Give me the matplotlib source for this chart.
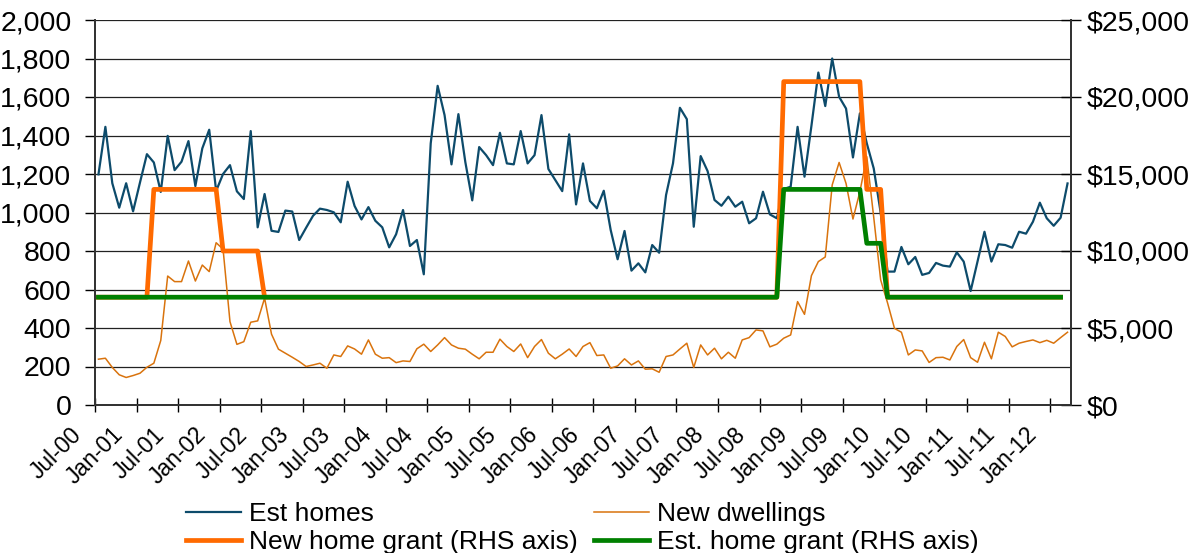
import numpy as np
import matplotlib
matplotlib.use("Agg")
import matplotlib.pyplot as plt
from matplotlib.ticker import FuncFormatter
from matplotlib.transforms import ScaledTranslation

plt.rcParams['font.family'] = ['Liberation Sans', 'DejaVu Sans']

# Monthly series, Jul-00 .. Mar-12
est_homes = [
    1198, 1445, 1152, 1025, 1152, 1006, 1156, 1303, 1260, 1107, 1398, 1220,
    1264, 1371, 1137, 1333, 1430, 1112, 1200, 1246, 1110, 1070, 1423, 923,
    1096, 905, 899, 1010, 1005, 857, 921, 983, 1020, 1013, 1001, 949,
    1160, 1034, 964, 1028, 957, 923, 819, 887, 1013, 826, 857, 679,
    1359, 1658, 1506, 1250, 1511, 1262, 1063, 1340, 1298, 1246, 1414, 1255,
    1250, 1423, 1255, 1298, 1506, 1226, 1169, 1111, 1406, 1042, 1255, 1060,
    1022, 1113, 909, 757, 904, 698, 736, 689, 831, 791, 1091, 1255,
    1544, 1485, 926, 1293, 1215, 1065, 1035, 1082, 1030, 1056, 944, 970,
    1108, 990, 970, 1122, 1134, 1445, 1186, 1450, 1727, 1553, 1800, 1601,
    1540, 1286, 1515, 1359, 1229, 1000, 693, 693, 821, 731, 769, 676,
    686, 738, 724, 719, 793, 745, 592, 745, 900, 745, 835, 831,
    817, 900, 890, 952, 1051, 970, 931, 973, 1151,
]
new_dwellings = [
    238, 243, 195, 157, 143, 153, 165, 196, 217, 335, 670, 641,
    641, 748, 644, 727, 693, 843, 810, 433, 315, 329, 430, 437,
    555, 368, 290, 269, 248, 226, 200, 208, 217, 191, 260, 252,
    307, 291, 264, 338, 264, 243, 246, 220, 229, 226, 292, 316,
    278, 312, 350, 312, 295, 290, 264, 240, 274, 274, 342, 304,
    278, 317, 246, 304, 340, 269, 240, 264, 291, 252, 304, 324,
    257, 260, 191, 203, 240, 208, 229, 186, 188, 170, 252, 260,
    291, 321, 195, 312, 260, 295, 240, 274, 243, 338, 350, 390,
    385, 302, 316, 347, 364, 537, 471, 672, 745, 769, 1143, 1260,
    1151, 966, 1108, 1290, 975, 650, 530, 398, 378, 260, 286, 281,
    221, 246, 248, 234, 304, 340, 246, 222, 326, 240, 378, 356,
    302, 321, 330, 338, 324, 336, 321, 350, 378,
]

# Grant schedules as (amount, number of months), Jul-00 .. Feb-12
new_grant_steps = [(7000, 8), (14000, 10), (10000, 6), (7000, 75),
                   (21000, 12), (14000, 3), (7000, 26)]
est_grant_steps = [(7000, 99), (14000, 12), (10500, 3), (7000, 26)]

tick_labels = ['Jul-00', 'Jan-01', 'Jul-01', 'Jan-02', 'Jul-02', 'Jan-03',
               'Jul-03', 'Jan-04', 'Jul-04', 'Jan-05', 'Jul-05', 'Jan-06',
               'Jul-06', 'Jan-07', 'Jul-07', 'Jan-08', 'Jul-08', 'Jan-09',
               'Jul-09', 'Jan-10', 'Jul-10', 'Jan-11', 'Jul-11', 'Jan-12']

new_home_grant = np.repeat([a for a, n in new_grant_steps], [n for a, n in new_grant_steps])
est_home_grant = np.repeat([a for a, n in est_grant_steps], [n for a, n in est_grant_steps])

W, H = 1196, 553
fig = plt.figure(figsize=(W / 100, H / 100), dpi=100)
ax = fig.add_axes([95 / W, 1 - 405 / H, (1071 - 95) / W, 385 / H])

x = np.arange(len(est_homes))
l1, = ax.plot(x, est_homes, color='#0D4B6B', lw=1.6, label='Est homes', zorder=3)
l2, = ax.plot(x, new_dwellings, color='#D9730D', lw=1.1, label='New dwellings', zorder=3)

ax.set_xlim(-0.5, len(est_homes) - 0.5)
ax.set_ylim(0, 2000)
ax.set_yticks(range(0, 2001, 200))
ax.yaxis.set_major_formatter(FuncFormatter(lambda v, p: f'{v:,.0f}'))
ax.grid(axis='y', color='#222222', lw=0.9)
ax.set_axisbelow(True)

# month ticks every six months; labels drawn as rotated text shifted down-left
tick_pos = [6 * k - 0.5 for k in range(len(tick_labels))]
ax.set_xticks(tick_pos)
ax.set_xticklabels([])
off = ScaledTranslation(-17 / 100, -26 / 100, fig.dpi_scale_trans)
for pos, lbl in zip(tick_pos, tick_labels):
    ax.text(pos, 0, lbl, transform=ax.get_xaxis_transform() + off,
            rotation=45, rotation_mode='anchor', ha='right', va='center',
            fontsize=16.5)

ax.tick_params(axis='x', direction='inout', length=10, width=1)
ax.tick_params(axis='y', direction='out', length=7, width=1, pad=10, labelsize=20.5)

ax2 = ax.twinx()
xg = np.arange(len(new_home_grant))
l3, = ax2.plot(xg, new_home_grant, color='#FF6A00', lw=3.4, label='New home grant (RHS axis)')
l4, = ax2.plot(xg, est_home_grant, color='#008000', lw=3.4, label='Est. home grant (RHS axis)')
ax2.set_ylim(0, 25000)
ax2.set_yticks(range(0, 25001, 5000))
ax2.yaxis.set_major_formatter(FuncFormatter(lambda v, p: f'${v:,.0f}'))
ax2.tick_params(axis='y', direction='inout', length=14, width=1, pad=4, labelsize=20.5)

for a in (ax, ax2):
    a.spines['top'].set_visible(False)
    for s in ('left', 'right', 'bottom'):
        a.spines[s].set_color('#333333')
        a.spines[s].set_linewidth(1.3)

fig.legend(handles=[l1, l3, l2, l4], ncol=2, loc='upper left',
           bbox_to_anchor=(186 / W, 1 - 502 / H), frameon=False, fontsize=19,
           handlelength=2.1, handletextpad=0.3, columnspacing=0.6,
           labelspacing=0.15, borderpad=0, borderaxespad=0)

fig.savefig('out.png', dpi=100)
